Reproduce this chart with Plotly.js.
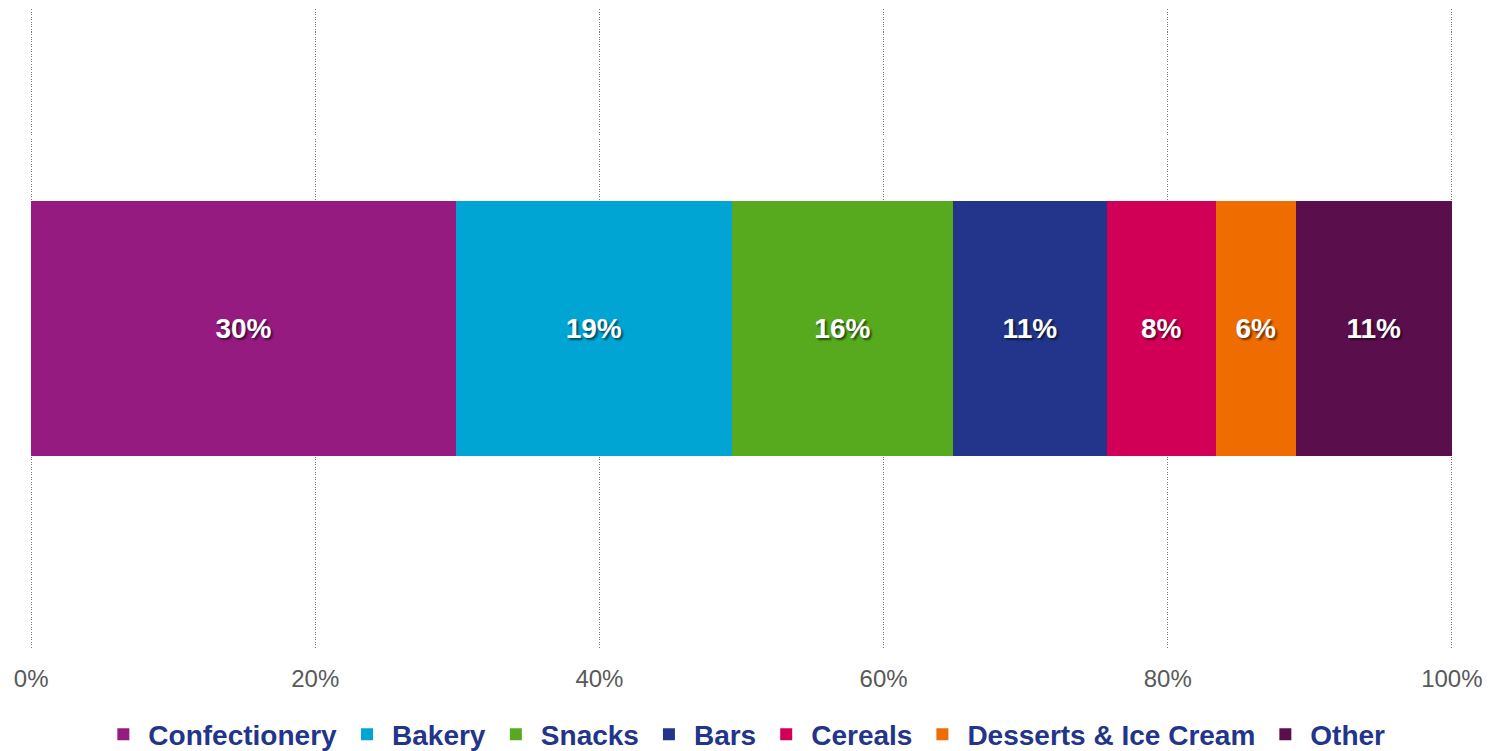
<!DOCTYPE html>
<html><head><meta charset="utf-8">
<script src="https://cdn.plot.ly/plotly-3.0.1.min.js"></script>
<style>html,body{margin:0;padding:0;background:#fff;}#chart{width:1497px;height:751px;}</style>
</head><body><div id="chart"></div>
<script>
const categories = ["Confectionery","Bakery","Snacks","Bars","Cereals","Desserts & Ice Cream","Other"];
const shares = [29.9, 19.4, 15.6, 10.8, 7.7, 5.6, 11.0];
const colors = ["#951B81","#00A5D3","#57A91E","#22358A","#D10056","#EE6C00","#5A0F4C"];
const tickValues = [0,20,40,60,80,100];
const tickLabels = ["0%","20%","40%","60%","80%","100%"];

const traces = categories.map((c,i)=>({
  type:'bar', orientation:'h', name:c, x:[shares[i]], y:['Share'],
  marker:{color:colors[i], line:{width:0}},
  texttemplate:'%{x:.0f}%', textposition:'inside', insidetextanchor:'middle',
  textfont:{family:'Liberation Sans, Arial, sans-serif', size:28, color:'#ffffff', weight:'bold', shadow:'2px 2px 2px rgba(0,0,0,0.55)'},
  hoverinfo:'skip'
}));

const layout = {
  barmode:'stack', bargap:0.6,
  width:1497, height:751,
  margin:{l:30, r:44, t:9, b:103},
  paper_bgcolor:'#ffffff', plot_bgcolor:'#ffffff',
  showlegend:true,
  legend:{orientation:'h', x:0.502, xanchor:'center', yref:'container', y:0.022, yanchor:'middle',
    itemwidth:40,
    font:{family:'Liberation Sans, Arial, sans-serif', size:28, color:'#22358A', weight:'bold'},
    itemclick:false, itemdoubleclick:false, traceorder:'normal'},
  xaxis:{range:[-0.08,100.08], tickvals:tickValues, ticktext:tickLabels, showgrid:true,
    gridcolor:'#747474', griddash:'1px,1.5px', gridwidth:1, zeroline:false, showline:false,
    ticks:'', ticklabelstandoff:14,
    tickfont:{family:'Liberation Sans, Arial, sans-serif', size:24, color:'#595959'}},
  yaxis:{showticklabels:false, showgrid:false, zeroline:false, showline:false, range:[-0.5,0.5]},
  hovermode:false
};
Plotly.newPlot('chart', traces, layout, {displayModeBar:false, staticPlot:true});
</script></body></html>
